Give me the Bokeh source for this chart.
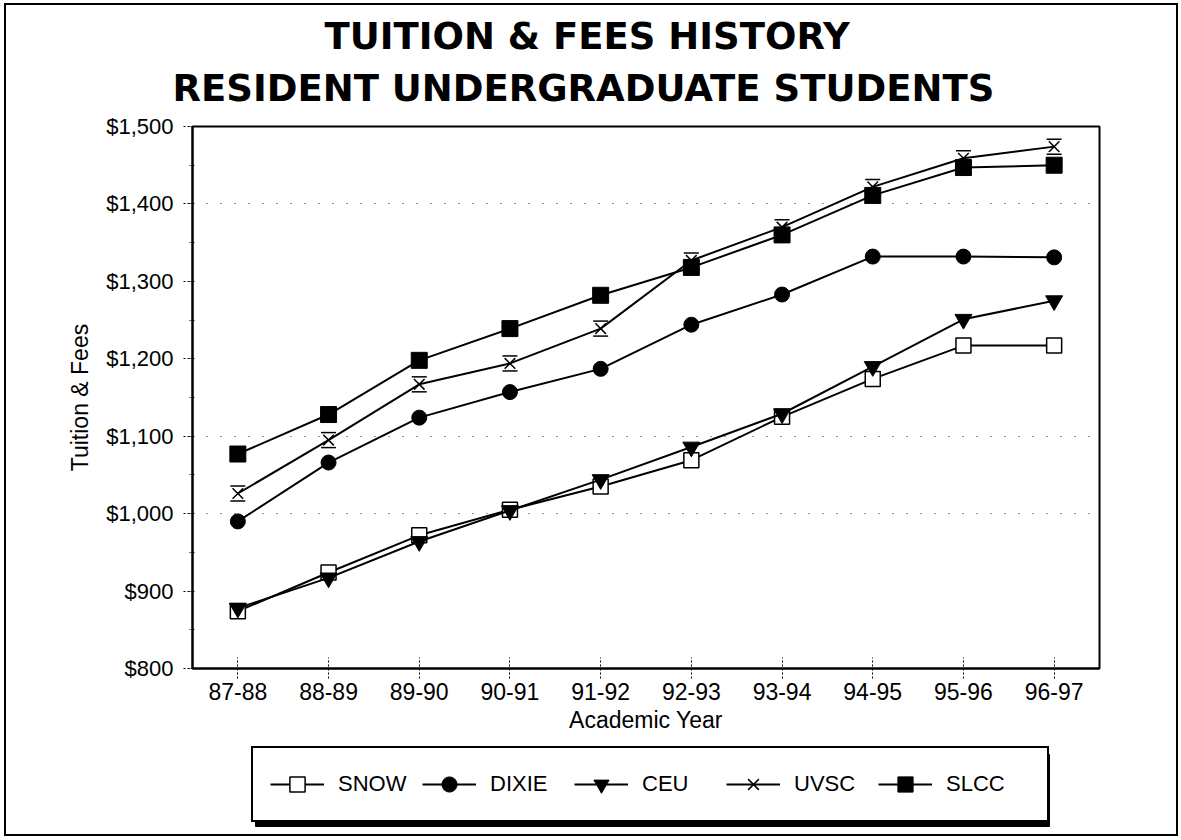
from bokeh.plotting import figure
from bokeh.layouts import column
from bokeh.models import (FactorRange, Range1d, Legend, LegendItem, Title,
                          SingleIntervalTicker, NumeralTickFormatter, FixedTicker,
                          ColumnDataSource, BoxAnnotation)
from bokeh.transform import dodge
from bokeh.embed import file_html
from bokeh.resources import INLINE

# ---------------- data ----------------
years = ["87-88", "88-89", "89-90", "90-91", "91-92",
         "92-93", "93-94", "94-95", "95-96", "96-97"]
snow = [874, 924, 972, 1005, 1035, 1069, 1125, 1174, 1217, 1217]
dixie = [990, 1066, 1124, 1157, 1187, 1244, 1283, 1332, 1332, 1331]
ceu = [878, 917, 964, 1004, 1044, 1086, 1129, 1190, 1251, 1275]
uvsc = [1026, 1095, 1167, 1194, 1239, 1327, 1370, 1422, 1459, 1474]
slcc = [1077, 1128, 1198, 1239, 1282, 1318, 1360, 1411, 1447, 1450]
series_names = ["SNOW", "DIXIE", "CEU", "UVSC", "SLCC"]
grid_values = [1000, 1100, 1400]

title_line1 = "TUITION & FEES HISTORY"
title_line2 = "RESIDENT UNDERGRADUATE STUDENTS"
x_label = "Academic Year"
y_label = "Tuition & Fees"

FONT = "Liberation Sans"
TITLE_FONT = "DejaVu Sans"
Y_MIN, Y_MAX = 800, 1500

W = 1170
LEFT, RIGHT, TOP, BOTTOM = 186, 77, 121, 74
FRAME_W, FRAME_H = 907, 542
MAIN_H = TOP + FRAME_H + BOTTOM
LEG_H = 92

src = ColumnDataSource(dict(year=years, SNOW=snow, DIXIE=dixie, CEU=ceu,
                            UVSC=uvsc, SLCC=slcc))

# ---------------- main plot ----------------
p = figure(x_range=FactorRange(*years), y_range=Range1d(Y_MIN, Y_MAX),
           width=W, height=MAIN_H,
           min_border_left=LEFT, min_border_right=RIGHT,
           min_border_top=TOP, min_border_bottom=BOTTOM,
           output_backend="svg", toolbar_location=None)
p.title.visible = False
p.outline_line_color = "black"
p.outline_line_width = 2

# titles: spacer nearest the frame, then line 2, then line 1
p.add_layout(Title(text=" ", text_font=TITLE_FONT, text_font_size="13px",
                   standoff=0), "above")
p.add_layout(Title(text=title_line2, align="left", offset=-20,
                   text_font=TITLE_FONT, text_font_size="37px",
                   text_font_style="bold", text_color="black", standoff=0),
             "above")
p.add_layout(Title(text=title_line1, align="left", offset=132,
                   text_font=TITLE_FONT, text_font_size="37px",
                   text_font_style="bold", text_color="black", standoff=13),
             "above")

for ax in (p.xaxis[0], p.yaxis[0]):
    ax.axis_line_width = 2
    ax.axis_line_color = "black"
    ax.major_label_text_font = FONT
    ax.major_label_text_color = "black"
    ax.axis_label_text_font = FONT
    ax.axis_label_text_font_size = "23px"
    ax.axis_label_text_font_style = "normal"
    ax.axis_label_text_color = "black"
    ax.major_tick_line_dash = "2 2"
    ax.major_tick_line_color = "black"

p.xaxis.axis_label = x_label
p.xaxis.major_label_text_font_size = "23px"
p.xaxis.major_tick_in = 11
p.xaxis.major_tick_out = 10
p.xaxis.major_label_standoff = 4
p.xaxis.axis_label_standoff = 4

p.yaxis.axis_label = y_label
p.yaxis.major_label_text_font_size = "22px"
p.yaxis.ticker = SingleIntervalTicker(interval=100, num_minor_ticks=2)
p.yaxis.formatter = NumeralTickFormatter(format="$0,0")
p.yaxis.major_tick_in = 0
p.yaxis.major_tick_out = 9
p.yaxis.minor_tick_in = 2
p.yaxis.minor_tick_out = 3
p.yaxis.minor_tick_line_dash = "1 1"
p.yaxis.major_label_standoff = 10
p.yaxis.axis_label_standoff = 10

p.xgrid.visible = False
p.ygrid.ticker = FixedTicker(ticks=grid_values)
p.ygrid.grid_line_color = "#333333"
p.ygrid.grid_line_dash = "1 13"
p.ygrid.grid_line_width = 1

# ---------------- legend strip ----------------
lf = figure(width=W, height=LEG_H, x_range=p.x_range, y_range=Range1d(0, 1),
            x_axis_type=None, y_axis_type=None, min_border=0,
            output_backend="svg", toolbar_location=None)
lf.outline_line_color = None
lf.title.visible = False

off = 7.5 * (Y_MAX - Y_MIN) / FRAME_H
lw = 2
styles = {
    "SNOW": dict(marker="square", size=15, fill_color="white", line_width=1.5),
    "DIXIE": dict(marker="circle", size=15, fill_color="black", line_width=1),
    "CEU": dict(marker="inverted_triangle", size=17, fill_color="black", line_width=1),
    "UVSC": dict(marker="x", size=15, line_width=1.5),
    "SLCC": dict(marker="square", size=16, fill_color="black", line_width=1),
}

items = []
for name in series_names:
    st = styles[name]
    p.line("year", name, source=src, line_color="black", line_width=lw)
    p.scatter("year", name, source=src, line_color="black", **st)
    if name == "UVSC":
        for d in (off, -off):
            p.scatter("year", dodge(name, d), source=src, marker="dash", size=15,
                      line_color="black", line_width=1.5)
    # legend samples (their data lie outside this strip's range)
    ll = lf.line("year", name, source=src, line_color="black", line_width=lw)
    mm = lf.scatter("year", name, source=src, line_color="black", **st)
    items.append(LegendItem(label=name, renderers=[ll, mm]))

# legend box geometry (screen px relative to the strip's frame)
LG_X, LG_Y, LG_W, LG_H, SH = 59, 12, 794, 72, 4
lf.add_layout(BoxAnnotation(left=LG_X + SH, right=LG_X + LG_W + SH,
                            bottom=LG_Y - SH, top=LG_Y + LG_H - SH,
                            left_units="screen", right_units="screen",
                            bottom_units="screen", top_units="screen",
                            fill_color="black", fill_alpha=1,
                            line_color="black", line_alpha=1))

legend = Legend(items=items, orientation="horizontal", location=(LG_X, LG_Y),
                glyph_width=54, glyph_height=38, label_width=84,
                label_standoff=14, spacing=0, padding=17, margin=0,
                border_line_color="black", border_line_width=2,
                border_line_alpha=1,
                label_text_font=FONT, label_text_font_size="22px",
                label_text_color="black", background_fill_color="white",
                background_fill_alpha=1)
lf.add_layout(legend, "center")

layout = column(p, lf, spacing=0)
layout.styles = {"border": "2px solid black", "margin-left": "4px",
                 "margin-top": "3px"}

open("out.html", "w").write(file_html(layout, INLINE))
